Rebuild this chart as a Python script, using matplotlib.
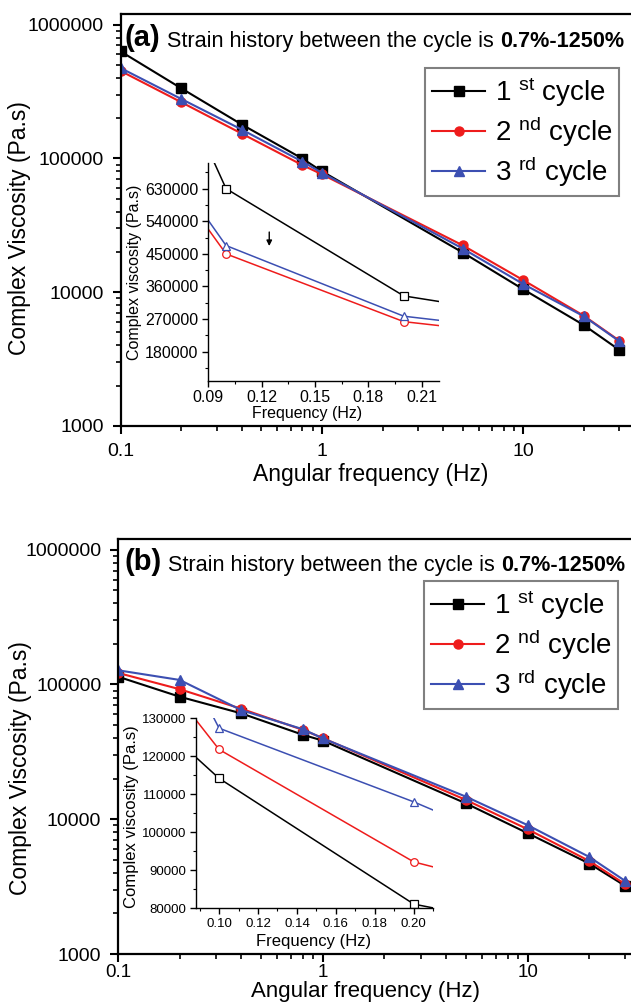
import numpy as np
import matplotlib.pyplot as plt
from matplotlib.ticker import FuncFormatter, MultipleLocator, LogLocator, NullFormatter

plt.rcParams['font.family'] = ['Liberation Sans', 'DejaVu Sans']
plt.rcParams['mathtext.fontset'] = 'custom'
plt.rcParams['mathtext.rm'] = 'Liberation Sans'
plt.rcParams['mathtext.default'] = 'regular'

# angular frequency (Hz); the 0.05 point lies left of the main x range and is
# only estimated from the line stubs entering the insets
freq = [0.05, 0.1, 0.2, 0.4, 0.8, 1.0, 5, 10, 20, 30]

# panel (a) complex viscosity (Pa.s)
a_cycle1 = [1170000, 630000, 334000, 179000, 99500, 80000, 19800, 10500, 5670, 3700]
a_cycle2 = [790000, 450000, 263000, 153000, 89000, 76000, 22400, 12300, 6660, 4340]
a_cycle3 = [820000, 473000, 278000, 164000, 94500, 78000, 21200, 11500, 6600, 4300]

# panel (b) complex viscosity (Pa.s)
b_cycle1 = [137500, 114200, 81100, 61000, 42300, 38300, 13100, 7880, 4690, 3200]
b_cycle2 = [154500, 121800, 92200, 66000, 46000, 40000, 13900, 8430, 4900, 3290]
b_cycle3 = [177000, 127400, 108000, 64500, 46500, 39800, 14700, 9040, 5250, 3480]

labels = [r'1 $^{st}$ cycle', r'2 $^{nd}$ cycle', r'3 $^{rd}$ cycle']
colors = ['black', '#ee1c1c', '#3c4fb2']
markers = ['s', 'o', '^']
header = 'Strain history between the cycle is '
header_bold = '0.7%-1250%'

W, H = 631, 1006
fig = plt.figure(figsize=(W / 100, H / 100), dpi=100)


def px(l, t, r, b):
    return [l / W, 1 - b / H, (r - l) / W, (b - t) / H]


def xfmt_main(v, p):
    # the 100 tick falls outside the (cropped) picture
    return '%g' % v if v < 50 else ''


def main_panel(rect, series, tag, tag_xy, leg_xy, xlab, ylab, xpad=6, xtick_fs=14,
               xlab_fs=16.5):
    ax = fig.add_axes(rect)
    for y, c, m, lab in zip(series, colors, markers, labels):
        ax.plot(freq, y, color=c, marker=m, ms=6.5, lw=1.5, label=lab)
    ax.set_xscale('log')
    ax.set_yscale('log')
    ax.set_xlim(0.1, 100)
    ax.set_ylim(1000, 1.2e6)
    ax.xaxis.set_major_formatter(FuncFormatter(xfmt_main))
    ax.yaxis.set_major_formatter(FuncFormatter(lambda v, p: '%d' % v))
    ax.yaxis.set_minor_locator(LogLocator(base=10, subs=np.arange(2, 10)))
    ax.yaxis.set_minor_formatter(NullFormatter())
    ax.xaxis.set_minor_formatter(NullFormatter())
    ax.tick_params(which='major', direction='out', length=6, width=1.5, labelsize=14, pad=6)
    ax.tick_params(axis='x', which='major', pad=xpad, labelsize=xtick_fs)
    ax.tick_params(which='minor', direction='out', length=3.5, width=1.2)
    for s in ax.spines.values():
        s.set_linewidth(1.6)
    ax.set_xlabel('Angular frequency (Hz)', fontsize=xlab_fs)
    ax.set_ylabel('Complex Viscosity (Pa.s)', fontsize=16.5)
    ax.xaxis.set_label_coords(*xlab)
    ax.yaxis.set_label_coords(*ylab)

    fig.text(tag_xy[0] / W, 1 - tag_xy[1] / H, tag, fontsize=21, fontweight='bold',
             va='baseline')
    t2 = fig.text((tag_xy[0] + 43) / W, 1 - (tag_xy[1] + 1) / H, header, fontsize=15.6,
                  va='baseline')
    fig.canvas.draw()
    bb = t2.get_window_extent()
    fig.text(bb.x1 / W, 1 - (tag_xy[1] + 1) / H, header_bold, fontsize=15.6,
             fontweight='bold', va='baseline')

    leg = ax.legend(loc='upper right', bbox_to_anchor=(leg_xy[0] / W, 1 - leg_xy[1] / H),
                    bbox_transform=fig.transFigure, fontsize=20, handlelength=1.9,
                    handletextpad=0.35, labelspacing=0.2, borderpad=0.25,
                    fancybox=False, framealpha=1, borderaxespad=0)
    leg.get_frame().set_edgecolor('#808080')
    leg.get_frame().set_linewidth(1.5)
    return ax


def inset_panel(rect, series, xlim, ylim, xmaj, xmin, ymaj, ymin, fs_tick, fs_lab,
                xlab, ylab, xfmt):
    ax = fig.add_axes(rect)
    ax.patch.set_visible(False)
    for y, c, m in zip(series, colors, markers):
        ax.plot(freq, y, color=c, marker=m, ms=5.5, lw=1.1, mfc='white', mew=0.9)
    ax.set_xlim(*xlim)
    ax.set_ylim(*ylim)
    ax.xaxis.set_major_locator(MultipleLocator(xmaj))
    ax.xaxis.set_minor_locator(MultipleLocator(xmin))
    ax.yaxis.set_major_locator(MultipleLocator(ymaj))
    ax.yaxis.set_minor_locator(MultipleLocator(ymin))
    ax.xaxis.set_major_formatter(FuncFormatter(lambda v, p: xfmt % v))
    ax.yaxis.set_major_formatter(FuncFormatter(lambda v, p: '%d' % round(v)))
    ax.spines['top'].set_visible(False)
    ax.spines['right'].set_visible(False)
    for s in ('left', 'bottom'):
        ax.spines[s].set_linewidth(1.0)
    ax.tick_params(which='major', direction='out', length=4, width=1.0,
                   labelsize=fs_tick, pad=3)
    ax.tick_params(which='minor', direction='out', length=2.2, width=0.8)
    ax.set_xlabel('Frequency (Hz)', fontsize=fs_lab)
    ax.set_ylabel('Complex viscosity (Pa.s)', fontsize=fs_lab)
    ax.xaxis.set_label_coords(*xlab)
    ax.yaxis.set_label_coords(*ylab)
    return ax


# panel (a)
main_panel(px(120.7, 14, 724.6, 426), [a_cycle1, a_cycle2, a_cycle3], '(a)', (124, 46),
           (619, 68), (0.414, -0.09), (-0.148, 0.48))
ins_a = inset_panel(px(208.3, 163.3, 439.3, 380.7), [a_cycle1, a_cycle2, a_cycle3],
                    (0.09, 0.22), (100000, 700000), 0.03, 0.015, 90000, 45000,
                    11.5, 11.5, (0.426, -0.115), (-0.285, 0.5), '%.2f')
ins_a.annotate('', xy=(0.1243, 464000), xytext=(0.1243, 518000),
               arrowprops=dict(arrowstyle='-|>', color='black', lw=1.0,
                               mutation_scale=8))

# panel (b)
main_panel(px(118, 539, 732.4, 954), [b_cycle1, b_cycle2, b_cycle3], '(b)', (125, 570),
           (618, 581), (0.403, -0.066), (-0.14, 0.448), xpad=1, xtick_fs=13.5, xlab_fs=16)
inset_panel(px(195.7, 718.3, 433.3, 908.3), [b_cycle1, b_cycle2, b_cycle3],
            (0.088, 0.21), (80000, 130000), 0.02, 0.01, 10000, 5000,
            9.5, 12, (0.497, -0.135), (-0.24, 0.483), '%.2f')

fig.savefig('out.png', dpi=100)
